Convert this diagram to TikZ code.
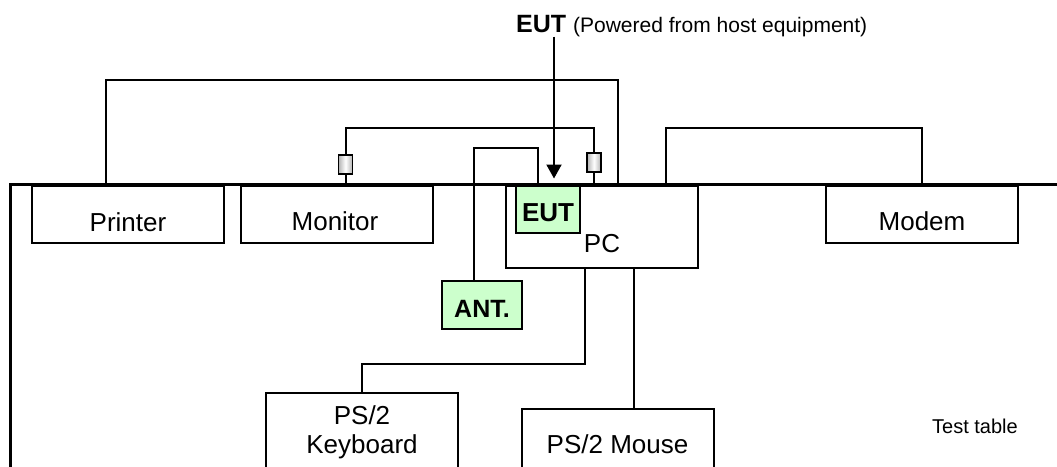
\documentclass[tikz,border=0pt]{standalone}
\usepackage{fontspec}
\setmainfont{Liberation Sans}
\usetikzlibrary{arrows.meta,positioning}

\definecolor{eutgreen}{HTML}{CCFFCC}

\begin{document}
\begin{tikzpicture}[x=1pt, y=-1pt,
    unit/.style={draw, line width=2pt, fill=white, inner sep=0pt},
    tag/.style={unit, fill=eutgreen},
    cable/.style={line width=2pt},
    core/.style={draw, line width=1.5pt, inner sep=0pt, minimum width=14pt, minimum height=19pt,
        left color=gray!60, right color=gray!60, middle color=white},
    lbl/.style={inner sep=0pt, anchor=base, font=\fontsize{26}{29}\selectfont},
    blbl/.style={lbl, font=\fontsize{26}{29}\selectfont\bfseries}]
    \useasboundingbox (0,0) rectangle (1057,466);
    \clip (0,0) rectangle (1057,466);

    % Test table
    \draw[line width=3pt] (10,480) -- (10,184.5) -- (1060,184.5);
    \node[lbl, font=\fontsize{20}{24}\selectfont] (tabletxt) at (975,433) {Test table};

    % Units on the table
    \node[unit, minimum width=192pt, minimum height=57pt] (printer) at (128,214.5) {};
    \node[unit, minimum width=192pt, minimum height=57pt] (monitor) at (336.5,214.5) {};
    \node[unit, minimum width=192pt, minimum height=82pt] (pc) at (602,227) {};
    \node[tag, minimum width=64pt, minimum height=47pt] (eut) at (548,209.5) {};
    \node[unit, minimum width=192pt, minimum height=57pt] (modem) at (922,214.5) {};
    \node[tag, minimum width=80pt, minimum height=48pt] (ant) at (482,305) {};
    \node[unit, minimum width=192pt, minimum height=120pt] (kbd) at (362,453) {};
    \node[unit, minimum width=192pt, minimum height=120pt] (mouse) at (618,469) {};

    % Labels
    \node[lbl] (printertxt) at (128,231.5) {Printer};
    \node[lbl] (monitortxt) at (335,230) {Monitor};
    \node[lbl] (pctxt) at (602,252) {PC};
    \node[lbl] (modemtxt) at (922,230.5) {Modem};
    \node[blbl] (euttxt) at (548,221) {EUT};
    \node[blbl, font=\fontsize{25}{29}\selectfont\bfseries] (anttxt) at (482,317) {ANT.};
    \node[lbl] (kbdtxt) at (362,424) {PS/2};
    \node[lbl] (kbdtxt2) at (362,453) {Keyboard};
    \node[lbl] (mousetxt) at (617.5,453) {PS/2 Mouse};

    % Cables
    \draw[cable] ([xshift=-22pt]printer.north) -- ++(0,-105) -| ([xshift=16pt]pc.north);
    \draw[cable] ([xshift=9pt]monitor.north) -- ++(0,-57) -| ([xshift=-8pt]pc.north);
    \draw[cable] ([xshift=-8pt]ant.north) -- ++(0,-132) -| ([xshift=-10pt]eut.north);
    \draw[cable] ([xshift=64pt]pc.north) -- ++(0,-57) -| (modem.north);
    \draw[cable] ([xshift=-17pt]pc.south) -- ++(0,95) -| (kbd.north);
    \coordinate (ms) at ([xshift=32pt]pc.south);
    \draw[cable] (ms) -- (ms |- mouse.north);

    % Ferrite cores
    \node[core] (core1) at (345.5,164.5) {};
    \node[core] (core2) at (594,162.5) {};

    % EUT note
    \node[inner sep=0pt, anchor=base west] (eutlbl) at (516,32)
        {\fontsize{25}{30}\selectfont\bfseries EUT \mdseries\fontsize{21}{25}\selectfont(Powered from host equipment)};
    \coordinate (arrtip) at (554,178.5);
    \draw[cable, -{Triangle[width=15pt,length=14pt]}] (eutlbl.south -| arrtip) -- (arrtip);
\end{tikzpicture}
\end{document}
